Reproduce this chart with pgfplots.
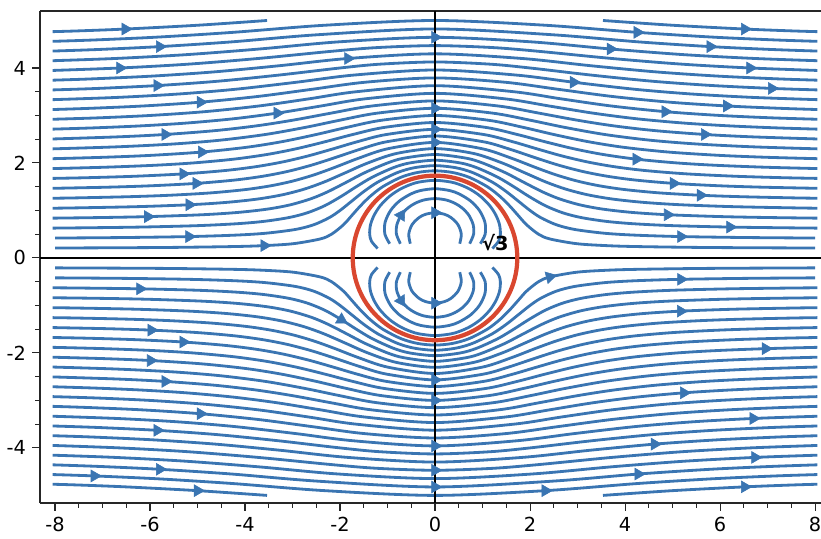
\documentclass[border=0pt]{standalone}
\usepackage{pgfplots}
\usepackage{pgfplotstable}
\pgfplotsset{compat=1.18}
\usepackage{fontspec}
\setmainfont{DejaVu Sans}
\definecolor{sblue}{HTML}{3A75B2}
\definecolor{cred}{HTML}{D9472F}

\tikzset{
  sl/.style={sblue,line width=1.6pt,smooth},
}
\pgfplotsset{
  arr/.style={only marks, mark=triangle*, mark size=3.9pt,
    mark options={rotate=-90+#1, fill=sblue, draw=sblue, line width=0.3pt}},
  arr/.default=0,
}

% streamlines psi = y - 3y/r^2 = c (upper half), read as x,y pairs
\pgfplotstableread{
x y
-8.0 0.209
-5.74 0.22
-4.236 0.24
-3.596 0.26
-2.985 0.3
-2.417 0.4
-2.179 0.5
-1.926 0.7
-1.746 0.9
-1.567 1.1
-1.362 1.3
-1.101 1.5
-0.714 1.7
-0.367 1.8
0 1.835
0.367 1.8
0.714 1.7
1.101 1.5
1.362 1.3
1.567 1.1
1.746 0.9
1.926 0.7
2.179 0.5
2.417 0.4
2.985 0.3
3.596 0.26
4.236 0.24
5.74 0.22
8.0 0.209
}\sA
\pgfplotstableread{
x y
-8.0 0.419
-6.54 0.43
-5.177 0.45
-4.215 0.48
-3.568 0.52
-2.939 0.6
-2.551 0.7
-2.224 0.85
-2.0 1.0
-1.749 1.2
-1.497 1.4
-1.2 1.6
-0.786 1.8
-0.436 1.9
0 1.944
0.436 1.9
0.786 1.8
1.2 1.6
1.497 1.4
1.749 1.2
2.0 1.0
2.224 0.85
2.551 0.7
2.939 0.6
3.568 0.52
4.215 0.48
5.177 0.45
6.54 0.43
8.0 0.419
}\sB
\pgfplotstableread{
x y
-8.05 0.628
-7.35 0.635
-6.211 0.65
-5.004 0.68
-4.181 0.72
-3.605 0.77
-3.079 0.85
-2.691 0.95
-2.322 1.1
-1.97 1.3
-1.658 1.5
-1.321 1.7
-0.88 1.9
-0.535 2.0
0 2.058
0.535 2.0
0.88 1.9
1.321 1.7
1.658 1.5
1.97 1.3
2.322 1.1
2.691 0.95
3.079 0.85
3.605 0.77
4.181 0.72
5.004 0.68
6.211 0.65
7.35 0.635
8.05 0.628
}\sC
\pgfplotstableread{
x y
-8.05 0.838
-7.091 0.85
-6.044 0.87
-4.898 0.91
-4.133 0.96
-3.518 1.03
-3.041 1.12
-2.602 1.25
-2.245 1.4
-1.855 1.6
-1.47 1.8
-1.0 2.0
-0.66 2.1
0 2.178
0.66 2.1
1.0 2.0
1.47 1.8
1.855 1.6
2.245 1.4
2.602 1.25
3.041 1.12
3.518 1.03
4.133 0.96
4.898 0.91
6.044 0.87
7.091 0.85
8.05 0.838
}\sD
\pgfplotstableread{
x y
-8.05 1.047
-7.512 1.055
-6.272 1.08
-5.172 1.12
-4.391 1.17
-3.737 1.24
-3.213 1.33
-2.75 1.45
-2.332 1.6
-1.873 1.8
-1.414 2.0
-0.812 2.2
0 2.303
0.812 2.2
1.414 2.0
1.873 1.8
2.332 1.6
2.75 1.45
3.213 1.33
3.737 1.24
4.391 1.17
5.172 1.12
6.272 1.08
7.512 1.055
8.05 1.047
}\sE
\pgfplotstableread{
x y
-8.05 1.257
-7.535 1.265
-6.429 1.29
-5.591 1.32
-4.722 1.37
-3.991 1.44
-3.455 1.52
-2.991 1.62
-2.546 1.75
-2.129 1.9
-1.609 2.1
-0.991 2.3
0 2.433
0.991 2.3
1.609 2.1
2.129 1.9
2.546 1.75
2.991 1.62
3.455 1.52
3.991 1.44
4.722 1.37
5.591 1.32
6.429 1.29
7.535 1.265
8.05 1.257
}\sF
\pgfplotstableread{
x y
-8.05 1.466
-6.888 1.49
-5.974 1.52
-5.024 1.57
-4.22 1.64
-3.628 1.72
-3.112 1.82
-2.614 1.95
-2.142 2.1
-1.542 2.3
-0.999 2.45
0 2.568
0.999 2.45
1.542 2.3
2.142 2.1
2.614 1.95
3.112 1.82
3.628 1.72
4.22 1.64
5.024 1.57
5.974 1.52
6.888 1.49
8.05 1.466
}\sG
\pgfplotstableread{
x y
-8.05 1.675
-7.313 1.69
-6.328 1.72
-5.301 1.77
-4.429 1.84
-3.783 1.92
-3.217 2.02
-2.665 2.15
-2.137 2.3
-1.626 2.45
-1.02 2.6
0 2.708
1.02 2.6
1.626 2.45
2.137 2.3
2.665 2.15
3.217 2.02
3.783 1.92
4.429 1.84
5.301 1.77
6.328 1.72
7.313 1.69
8.05 1.675
}\sH
\pgfplotstableread{
x y
-8.05 1.882
-6.96 1.91
-5.933 1.95
-5.099 2.0
-4.238 2.08
-3.53 2.18
-2.917 2.3
-2.303 2.45
-1.729 2.6
-1.059 2.75
0 2.852
1.059 2.75
1.729 2.6
2.303 2.45
2.917 2.3
3.53 2.18
4.238 2.08
5.099 2.0
5.933 1.95
6.96 1.91
8.05 1.882
}\sI
\pgfplotstableread{
x y
-8.05 2.09
-6.965 2.12
-5.986 2.16
-4.91 2.23
-3.969 2.33
-3.214 2.45
-2.498 2.6
-1.854 2.75
-1.121 2.9
0 3.0
1.121 2.9
1.854 2.75
2.498 2.6
3.214 2.45
3.969 2.33
4.91 2.23
5.986 2.16
6.965 2.12
8.05 2.09
}\sJ
\pgfplotstableread{
x y
-8.05 2.297
-6.683 2.34
-5.499 2.4
-4.519 2.48
-3.569 2.6
-2.727 2.75
-2.005 2.9
-1.209 3.05
0 3.152
1.209 3.05
2.005 2.9
2.727 2.75
3.569 2.6
4.519 2.48
5.499 2.4
6.683 2.34
8.05 2.297
}\sK
\pgfplotstableread{
x y
-8.05 2.505
-6.671 2.55
-5.678 2.6
-4.64 2.68
-3.771 2.78
-2.998 2.9
-2.185 3.05
-1.327 3.2
0 3.307
1.327 3.2
2.185 3.05
2.998 2.9
3.771 2.78
4.64 2.68
5.678 2.6
6.671 2.55
8.05 2.505
}\sL
\pgfplotstableread{
x y
-8.05 2.712
-7.156 2.74
-6.213 2.78
-5.238 2.84
-4.249 2.93
-3.321 3.05
-2.4 3.2
-1.476 3.35
0 3.466
1.476 3.35
2.4 3.2
3.321 3.05
4.249 2.93
5.238 2.84
6.213 2.78
7.156 2.74
8.05 2.712
}\sM
\pgfplotstableread{
x y
-8.05 2.92
-7.092 2.95
-6.0 3.0
-4.849 3.08
-3.709 3.2
-2.655 3.35
-1.658 3.5
0 3.627
1.658 3.5
2.655 3.35
3.709 3.2
4.849 3.08
6.0 3.0
7.092 2.95
8.05 2.92
}\sN
\pgfplotstableread{
x y
-8.05 3.125
-7.285 3.15
-6.145 3.2
-4.938 3.28
-3.734 3.4
-2.6 3.55
-1.472 3.7
0 3.791
1.472 3.7
2.6 3.55
3.734 3.4
4.938 3.28
6.145 3.2
7.285 3.15
8.05 3.125
}\sO
\pgfplotstableread{
x y
-8.05 3.333
-6.701 3.38
-5.431 3.45
-4.222 3.55
-2.917 3.7
-1.717 3.85
0 3.958
1.717 3.85
2.917 3.7
4.222 3.55
5.431 3.45
6.701 3.38
8.05 3.333
}\sP
\pgfplotstableread{
x y
-8.05 3.538
-7.089 3.57
-5.846 3.63
-4.587 3.72
-3.293 3.85
-2.0 4.0
-1.164 4.08
0 4.127
1.164 4.08
2.0 4.0
3.293 3.85
4.587 3.72
5.846 3.63
7.089 3.57
8.05 3.538
}\sQ
\pgfplotstableread{
x y
-8.05 3.743
-7.233 3.77
-5.94 3.83
-4.624 3.92
-3.256 4.05
-1.833 4.2
0 4.298
1.833 4.2
3.256 4.05
4.624 3.92
5.94 3.83
7.233 3.77
8.05 3.743
}\sR
\pgfplotstableread{
x y
-8.05 3.948
-6.633 4.0
-5.203 4.08
-3.723 4.2
-2.192 4.35
-1.213 4.43
0 4.471
1.213 4.43
2.192 4.35
3.723 4.2
5.203 4.08
6.633 4.0
8.05 3.948
}\sS
\pgfplotstableread{
x y
-8.05 4.153
-6.735 4.2
-5.248 4.28
-3.693 4.4
-2.029 4.55
0 4.646
2.029 4.55
3.693 4.4
5.248 4.28
6.735 4.2
8.05 4.153
}\sT
\pgfplotstableread{
x y
-8.05 4.356
-7.074 4.39
-5.796 4.45
-4.278 4.55
-2.472 4.7
0 4.822
2.472 4.7
4.278 4.55
5.796 4.45
7.074 4.39
8.05 4.356
}\sU
\pgfplotstableread{
x y
-8.05 4.561
-7.17 4.59
-5.846 4.65
-4.26 4.75
-2.322 4.9
0 5.0
2.322 4.9
4.26 4.75
5.846 4.65
7.17 4.59
8.05 4.561
}\sV
\pgfplotstableread{
x y
-8.05 4.765
-7.538 4.78
-6.519 4.82
-4.999 4.9
-3.536 5.0
}\sWl
\pgfplotstableread{
x y
3.536 5.0
4.999 4.9
6.519 4.82
7.538 4.78
8.05 4.765
}\sWr
% closed streamlines inside the circle
\pgfplotstableread{
x y
-1.208 0.2
-1.337 0.35
-1.376 0.5
-1.358 0.7
-1.282 0.9
-1.153 1.1
-0.954 1.3
-0.731 1.45
-0.505 1.55
-0.327 1.6
0 1.635
0.327 1.6
0.505 1.55
0.731 1.45
0.954 1.3
1.153 1.1
1.282 0.9
1.358 0.7
1.376 0.5
1.337 0.35
1.208 0.2
}\iA
\pgfplotstableread{
x y
-0.954 0.3
-1.055 0.5
-1.051 0.75
-0.935 1.0
-0.748 1.2
-0.504 1.35
-0.304 1.42
0 1.458
0.304 1.42
0.504 1.35
0.748 1.2
0.935 1.0
1.051 0.75
1.055 0.5
0.954 0.3
}\iB
\pgfplotstableread{
x y
-0.729 0.3
-0.812 0.5
-0.803 0.7
-0.712 0.9
-0.574 1.05
-0.421 1.15
-0.236 1.22
0 1.25
0.236 1.22
0.421 1.15
0.574 1.05
0.712 0.9
0.803 0.7
0.812 0.5
0.729 0.3
}\iC
\pgfplotstableread{
x y
-0.52 0.3
-0.553 0.5
-0.484 0.7
-0.337 0.85
-0.196 0.92
0 0.952
0.196 0.92
0.337 0.85
0.484 0.7
0.553 0.5
0.52 0.3
}\iD

\begin{document}
\begin{tikzpicture}
\useasboundingbox (-0.8,-0.7) rectangle (15.62,10.06);
\begin{axis}[
  scale only axis,
  width=15.62cm, height=9.84cm,
  xmin=-8.316, xmax=8.126, ymin=-5.16, ymax=5.2,
  axis x line*=box, axis y line*=left,
  xtick={-8,-6,...,8}, ytick={-4,-2,...,4},
  minor x tick num=3, minor y tick num=3,
  xtick pos=bottom, ytick pos=left,
  tick align=outside,
  major tick length=4.5pt, minor tick length=2.8pt,
  tick style={black!85, line width=0.6pt},
  axis line style={black!85, line width=0.8pt},
  ticklabel style={font=\fontsize{11}{13}\selectfont},
  /pgf/number format/assume math mode=true,
]
% upper half
\addplot[sl] table {\sA};
\addplot[sl] table {\sB};
\addplot[sl] table {\sC};
\addplot[sl] table {\sD};
\addplot[sl] table {\sE};
\addplot[sl] table {\sF};
\addplot[sl] table {\sG};
\addplot[sl] table {\sH};
\addplot[sl] table {\sI};
\addplot[sl] table {\sJ};
\addplot[sl] table {\sK};
\addplot[sl] table {\sL};
\addplot[sl] table {\sM};
\addplot[sl] table {\sN};
\addplot[sl] table {\sO};
\addplot[sl] table {\sP};
\addplot[sl] table {\sQ};
\addplot[sl] table {\sR};
\addplot[sl] table {\sS};
\addplot[sl] table {\sT};
\addplot[sl] table {\sU};
\addplot[sl] table {\sV};
\addplot[sl] table {\sWl};
\addplot[sl] table {\sWr};
\addplot[sl] table {\iA};
\addplot[sl] table {\iB};
\addplot[sl] table {\iC};
\addplot[sl] table {\iD};
% lower half (mirror in y)
\addplot[sl] table[y expr=-\thisrow{y}] {\sA};
\addplot[sl] table[y expr=-\thisrow{y}] {\sB};
\addplot[sl] table[y expr=-\thisrow{y}] {\sC};
\addplot[sl] table[y expr=-\thisrow{y}] {\sD};
\addplot[sl] table[y expr=-\thisrow{y}] {\sE};
\addplot[sl] table[y expr=-\thisrow{y}] {\sF};
\addplot[sl] table[y expr=-\thisrow{y}] {\sG};
\addplot[sl] table[y expr=-\thisrow{y}] {\sH};
\addplot[sl] table[y expr=-\thisrow{y}] {\sI};
\addplot[sl] table[y expr=-\thisrow{y}] {\sJ};
\addplot[sl] table[y expr=-\thisrow{y}] {\sK};
\addplot[sl] table[y expr=-\thisrow{y}] {\sL};
\addplot[sl] table[y expr=-\thisrow{y}] {\sM};
\addplot[sl] table[y expr=-\thisrow{y}] {\sN};
\addplot[sl] table[y expr=-\thisrow{y}] {\sO};
\addplot[sl] table[y expr=-\thisrow{y}] {\sP};
\addplot[sl] table[y expr=-\thisrow{y}] {\sQ};
\addplot[sl] table[y expr=-\thisrow{y}] {\sR};
\addplot[sl] table[y expr=-\thisrow{y}] {\sS};
\addplot[sl] table[y expr=-\thisrow{y}] {\sT};
\addplot[sl] table[y expr=-\thisrow{y}] {\sU};
\addplot[sl] table[y expr=-\thisrow{y}] {\sV};
\addplot[sl] table[y expr=-\thisrow{y}] {\sWl};
\addplot[sl] table[y expr=-\thisrow{y}] {\sWr};
\addplot[sl] table[y expr=-\thisrow{y}] {\iA};
\addplot[sl] table[y expr=-\thisrow{y}] {\iB};
\addplot[sl] table[y expr=-\thisrow{y}] {\iC};
\addplot[sl] table[y expr=-\thisrow{y}] {\iD};
% arrow heads along the streamlines
\addplot[arr] coordinates {
(-3.596,0.26) (-5.177,0.45) (5.177,0.45) (6.211,0.65) (-6.044,0.87) (4.898,0.91)
(-5.172,1.12) (0,2.433) (5.591,1.32) (-5.024,1.57) (5.024,1.57) (-5.301,1.77)
(0,2.708) (4.238,2.08) (-4.91,2.23) (0,3.152) (-5.678,2.6) (5.678,2.6)
(-3.321,3.05) (4.849,3.08) (-4.938,3.28) (6.145,3.2) (2.917,3.7) (-5.846,3.63)
(7.089,3.57) (-1.833,4.2) (-6.633,4.0) (6.633,4.0) (0,4.646) (3.693,4.4)
(-5.796,4.45) (5.796,4.45) (4.26,4.75) (-6.519,4.82) (6.519,4.82) (0,0.952)
(-6.211,-0.65) (5.177,-0.45) (-5.974,-1.52) (-5.301,-1.77) (5.172,-1.12) (-5.986,-2.16)
(6.96,-1.91) (0,-2.568) (-5.678,-2.6) (5.238,-2.84) (0,-3.0) (-4.938,-3.28)
(6.701,-3.38) (-5.846,-3.63) (4.624,-3.92) (0,-3.958) (6.735,-4.2) (0,-4.471)
(-5.796,-4.45) (4.278,-4.55) (-7.17,-4.59) (-4.999,-4.9) (6.519,-4.82) (2.322,-4.9)
(0,-4.822) (0,-0.952)
};
\addplot[arr=14] coordinates {(2.417,-0.4)};
\addplot[arr=-31] coordinates {(-1.97,-1.3)};
\addplot[arr=57] coordinates {(-0.712,0.9)};
\addplot[arr=-57] coordinates {(-0.712,-0.9)};
% axes through the origin
\draw[black, line width=0.8pt] (axis cs:-8.316,0) -- (axis cs:8.126,0);
\draw[black, line width=0.8pt] (axis cs:0,-5.16) -- (axis cs:0,5.2);
% circle of radius sqrt(3)
\node[circle, draw=cred, line width=2.4pt, minimum size=3.2908cm, inner sep=0pt] at (axis cs:0,0) {};
\node[font=\bfseries\fontsize{11}{13}\selectfont] at (axis cs:1.27,0.33) {√3};
\end{axis}
\end{tikzpicture}
\end{document}
